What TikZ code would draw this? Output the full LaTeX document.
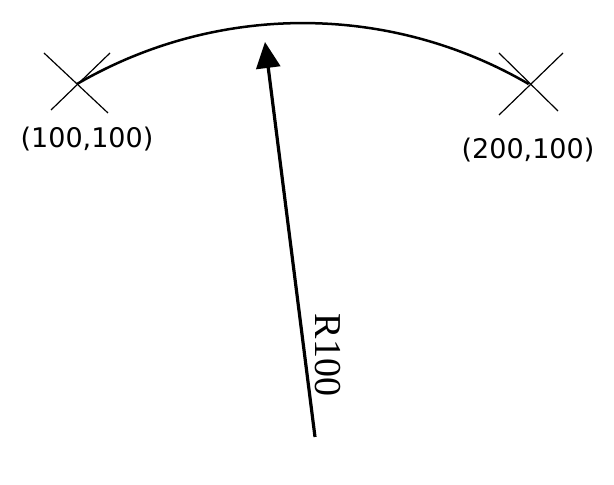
\documentclass[tikz,border=0pt]{standalone}
\usepackage{fontspec}
\setmainfont{Liberation Serif}
\newfontfamily\lblfont{DejaVu Sans}
\usetikzlibrary{arrows.meta}
\begin{document}
\begin{tikzpicture}[x=1pt,y=1pt,
  crossline/.style={line width=1.2pt},
  arcline/.style={line width=2.5pt},
  radiusarrow/.style={line width=3.2pt,-{Triangle[length=26pt,width=24pt]}},
  ptlabel/.style={font=\lblfont\fontsize{27}{32}\selectfont,inner sep=0pt},
  rlabel/.style={font=\fontsize{38}{44}\selectfont,inner sep=0pt,rotate=-90}]
\useasboundingbox (0,0) rectangle (614,485);
\coordinate (L) at (77,401);
\coordinate (R) at (529,401);
\coordinate (C) at (315,48);
\coordinate (T) at (265,443);
% crosses
\draw[crossline] (44,432) -- (108,372);
\draw[crossline] (110,432) -- (51,375);
\draw[crossline] (499,432) -- (558,374);
\draw[crossline] (563,432) -- (499,370);
% arc
\draw[arcline] (L) arc[start angle=120.2,end angle=59.8,radius=449];
% radius arrow
\draw[radiusarrow] (C) -- (T);
% labels
\node[ptlabel] (l1) at (87,346) {(100,100)};
\node[ptlabel] (l2) at (528,335) {(200,100)};
\node[rlabel] (r100) at (328,130) {R100};
\end{tikzpicture}
\end{document}
